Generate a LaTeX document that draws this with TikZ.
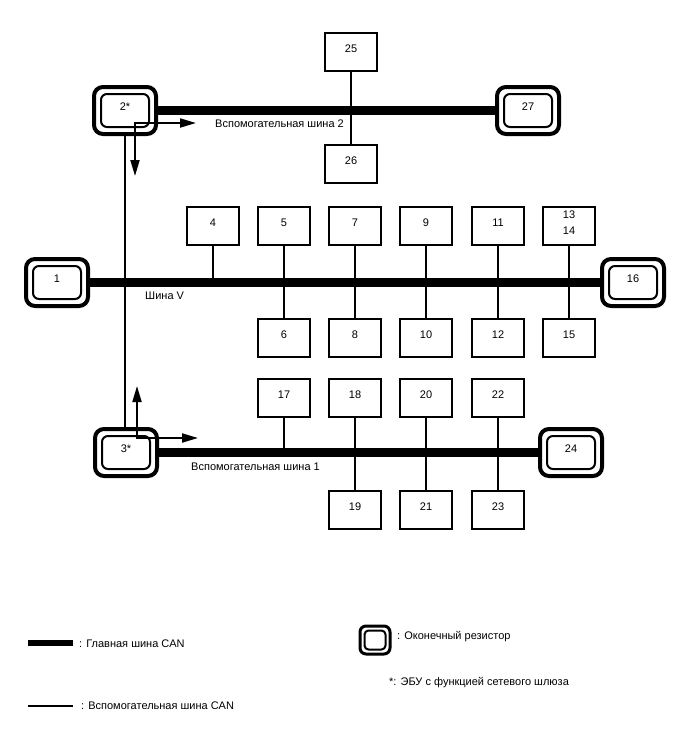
\documentclass[tikz,border=0pt]{standalone}
\usepackage{fontspec}
\setmainfont{Liberation Sans}
\usetikzlibrary{arrows.meta}
\begin{document}
\begin{tikzpicture}[x=1pt,y=-1pt,
  every node/.style={font=\fontsize{11}{16}\selectfont},
  lbl/.style={yshift=3.5pt, align=center, inner sep=0pt},
  ecu/.style={draw, line width=2pt, minimum width=52pt, minimum height=38pt, inner sep=0pt, label={[lbl]center:#1}},
  trout/.style={draw, line width=4pt, rounded corners=9pt, minimum width=62pt, minimum height=47pt, inner sep=0pt},
  trin/.style={draw, line width=2pt, rounded corners=6pt, minimum width=48pt, minimum height=33pt, inner sep=0pt, label={[lbl]center:#1}},
  mainbus/.style={line width=9pt},
  subline/.style={line width=2pt},
  arr/.style={line width=2pt, {Triangle[length=16pt,width=9pt]}-{Triangle[length=16pt,width=9pt]}},
  txt/.style={anchor=west, inner sep=0pt, text height=8pt, text depth=0pt}]
\useasboundingbox (0,0) rectangle (688,755);

% ---- sub bus 2 ----
\node[trout] (g2) at (125,110.5) {};
\node[trin={2*}] (g2i) at (g2.center) {};
\node[trout] (t27) at (528,110.5) {};
\node[trin=27] (t27i) at (t27.center) {};
\node[ecu=25] (e25) at (351,52) {};
\node[ecu=26] (e26) at (351,164) {};
\draw[mainbus] (g2.east) -- (t27.west);
\draw[subline] (e25.south) -- (e26.north);
\node[txt] (s2) at (215,123) {Вспомогательная шина 2};

% ---- bus V ----
\node[trout] (t1) at (57,282.5) {};
\node[trin=1] (t1i) at (t1.center) {};
\node[trout] (t16) at (633,282.5) {};
\node[trin=16] (t16i) at (t16.center) {};
\node[ecu=4] (e4) at (213,226) {};
\node[ecu=5] (e5) at (284,226) {};
\node[ecu=7] (e7) at (355,226) {};
\node[ecu=9] (e9) at (426,226) {};
\node[ecu=11] (e11) at (498,226) {};
\node[ecu={13\\14}] (e13) at (569,226) {};
\node[ecu=6] (e6) at (284,338) {};
\node[ecu=8] (e8) at (355,338) {};
\node[ecu=10] (e10) at (426,338) {};
\node[ecu=12] (e12) at (498,338) {};
\node[ecu=15] (e15) at (569,338) {};
\draw[mainbus] (t1.east) -- (t16.west);
\draw[subline] (e4.south) -- (e4.south |- t1.center);
\draw[subline] (e5.south) -- (e6.north);
\draw[subline] (e7.south) -- (e8.north);
\draw[subline] (e9.south) -- (e10.north);
\draw[subline] (e11.south) -- (e12.north);
\draw[subline] (e13.south) -- (e15.north);
\node[txt] (sv) at (145,295) {Шина V};

% ---- sub bus 1 ----
\node[trout] (g3) at (126,452.5) {};
\node[trin={3*}] (g3i) at (g3.center) {};
\node[trout] (t24) at (571,452.5) {};
\node[trin=24] (t24i) at (t24.center) {};
\node[ecu=17] (e17) at (284,398) {};
\node[ecu=18] (e18) at (355,398) {};
\node[ecu=20] (e20) at (426,398) {};
\node[ecu=22] (e22) at (498,398) {};
\node[ecu=19] (e19) at (355,510) {};
\node[ecu=21] (e21) at (426,510) {};
\node[ecu=23] (e23) at (498,510) {};
\draw[mainbus] (g3.east) -- (t24.west);
\draw[subline] (e17.south) -- (e17.south |- g3.center);
\draw[subline] (e18.south) -- (e19.north);
\draw[subline] (e20.south) -- (e21.north);
\draw[subline] (e22.south) -- (e23.north);
\node[txt] (s1) at (191,466) {Вспомогательная шина 1};

% ---- gateway link and arrows ----
\draw[subline] (g2.south) -- (g2.south |- g3.north);
\coordinate (a2) at (135,123);
\coordinate (a2r) at (196,123);
\coordinate (a2d) at (135,176);
\draw[arr] (a2d) -- (a2) -- (a2r);
\coordinate (a3) at (137,438);
\coordinate (a3u) at (137,386);
\coordinate (a3r) at (198,438);
\draw[arr] (a3u) -- (a3) -- (a3r);

% ---- legend ----
\coordinate (l1a) at (28,643);
\coordinate (l1b) at (73,643);
\draw[line width=6pt] (l1a) -- (l1b);
\node[txt] (lt1) at (79,643) {: Главная шина CAN};
\coordinate (l2a) at (28,706);
\coordinate (l2b) at (73,706);
\draw[line width=2pt] (l2a) -- (l2b);
\node[txt] (lt2) at (81,705) {: Вспомогательная шина CAN};
\node[draw, line width=3pt, rounded corners=6pt, minimum width=30pt, minimum height=28pt, inner sep=0pt] (lr) at (375,640) {};
\node[draw, line width=2pt, rounded corners=4pt, minimum width=21pt, minimum height=19pt, inner sep=0pt] (lri) at (lr.center) {};
\node[txt] (lt3) at (397,635) {: Оконечный резистор};
\node[txt] (lt4) at (389,681) {*: ЭБУ с функцией сетевого шлюза};
\end{tikzpicture}
\end{document}
